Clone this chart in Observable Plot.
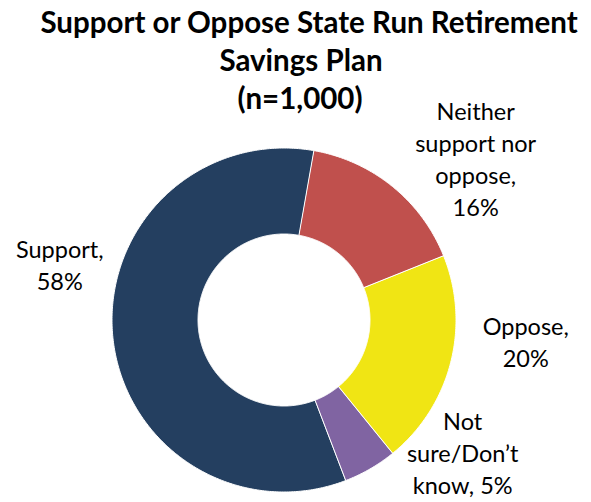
<!DOCTYPE html>
<html>
<head>
<meta charset="utf-8">
<script src="https://cdn.jsdelivr.net/npm/d3@7"></script>
<script src="https://cdn.jsdelivr.net/npm/@observablehq/plot@0.6"></script>
<style>
  html, body { margin: 0; padding: 0; background: #fff; }
  #wrap { position: relative; width: 591px; height: 502px; }
  .tl { position: absolute; left: 0; width: 600px; text-align: center; white-space: nowrap;
    font-family: Lato, "Open Sans", sans-serif; font-weight: bold; font-size: 29.5px; line-height: 38px; color: #000; }
  #chart { position: absolute; left: 0; top: 0; }
</style>
</head>
<body>
<div id="wrap">
  <div id="chart"></div>
  <div class="tl" style="top:3px; left:9px">Support or Oppose State Run Retirement</div>
  <div class="tl" style="top:41px; left:1px">Savings Plan</div>
  <div class="tl" style="top:79px; left:0px">(n=1,000)</div>
</div>
<script>
// Data (drawn clockwise from the first slice)
const categories = ["Neither support nor oppose", "Oppose", "Not sure/Don’t know", "Support"];
const values = [16, 20, 5, 58];
const labelLines = [
  ["Neither", "support nor", "oppose,", "16%"],
  ["Oppose,", "20%"],
  ["Not", "sure/Don’t", "know, 5%"],
  ["Support,", "58%"]
];
const colors = ["#C0504D", "#F0E514", "#8064A2", "#243F60"];

// Style / layout
const startAngle = 10 * Math.PI / 180;
const innerRatio = 0.5;
const labelRadius = 1.38;
const labelNudge = [[42, 25], [12, -36], [60, -71], [12, -76]]; // px nudges
const lineGap = 32;

const pie = d3.pie().sort(null).value(d => d.value)
  .startAngle(startAngle).endAngle(startAngle + 2 * Math.PI);
const table = categories.map((c, i) => ({category: c, value: values[i], lines: labelLines[i], i}));
const arcs = pie(table);

// Polygon outline of each ring segment (unit radius), derived from the pie layout
const pts = [];
for (const a of arcs) {
  const n = Math.max(8, Math.ceil((a.endAngle - a.startAngle) / 0.01));
  for (let k = 0; k <= n; k++) {
    const t = a.startAngle + (a.endAngle - a.startAngle) * k / n;
    pts.push({category: a.data.category, x: Math.sin(t), y: Math.cos(t)});
  }
  for (let k = n; k >= 0; k--) {
    const t = a.startAngle + (a.endAngle - a.startAngle) * k / n;
    pts.push({category: a.data.category, x: innerRatio * Math.sin(t), y: innerRatio * Math.cos(t)});
  }
}

const labels = [];
for (const a of arcs) {
  const mid = (a.startAngle + a.endAngle) / 2;
  const L = a.data.lines;
  L.forEach((line, j) => {
    labels.push({
      text: line,
      x: labelRadius * Math.sin(mid),
      y: labelRadius * Math.cos(mid),
      dx: labelNudge[a.data.i][0],
      dy: labelNudge[a.data.i][1] + (j - (L.length - 1) / 2) * lineGap
    });
  });
}

const cx = 283.5, cy = 319.5, R = 172;
const plot = Plot.plot({
  width: 591,
  height: 502,
  margin: 0,
  style: {background: "#fff", fontFamily: "Lato, 'Open Sans', sans-serif"},
  x: {domain: [-1, 1], range: [cx - R, cx + R], axis: null},
  y: {domain: [-1, 1], range: [cy + R, cy - R], axis: null},
  color: {domain: categories, range: colors},
  marks: [
    Plot.line(pts, {x: "x", y: "y", z: "category", fill: "category", stroke: "#fff", strokeWidth: 1, curve: "linear-closed"}),
    ...labels.map(l => Plot.text([l], {x: "x", y: "y", text: "text", dx: l.dx, dy: l.dy,
      fontSize: 23.5, fill: "#000", textAnchor: "middle", lineAnchor: "middle"}))
  ]
});
document.getElementById("chart").appendChild(plot);
</script>
</body>
</html>
